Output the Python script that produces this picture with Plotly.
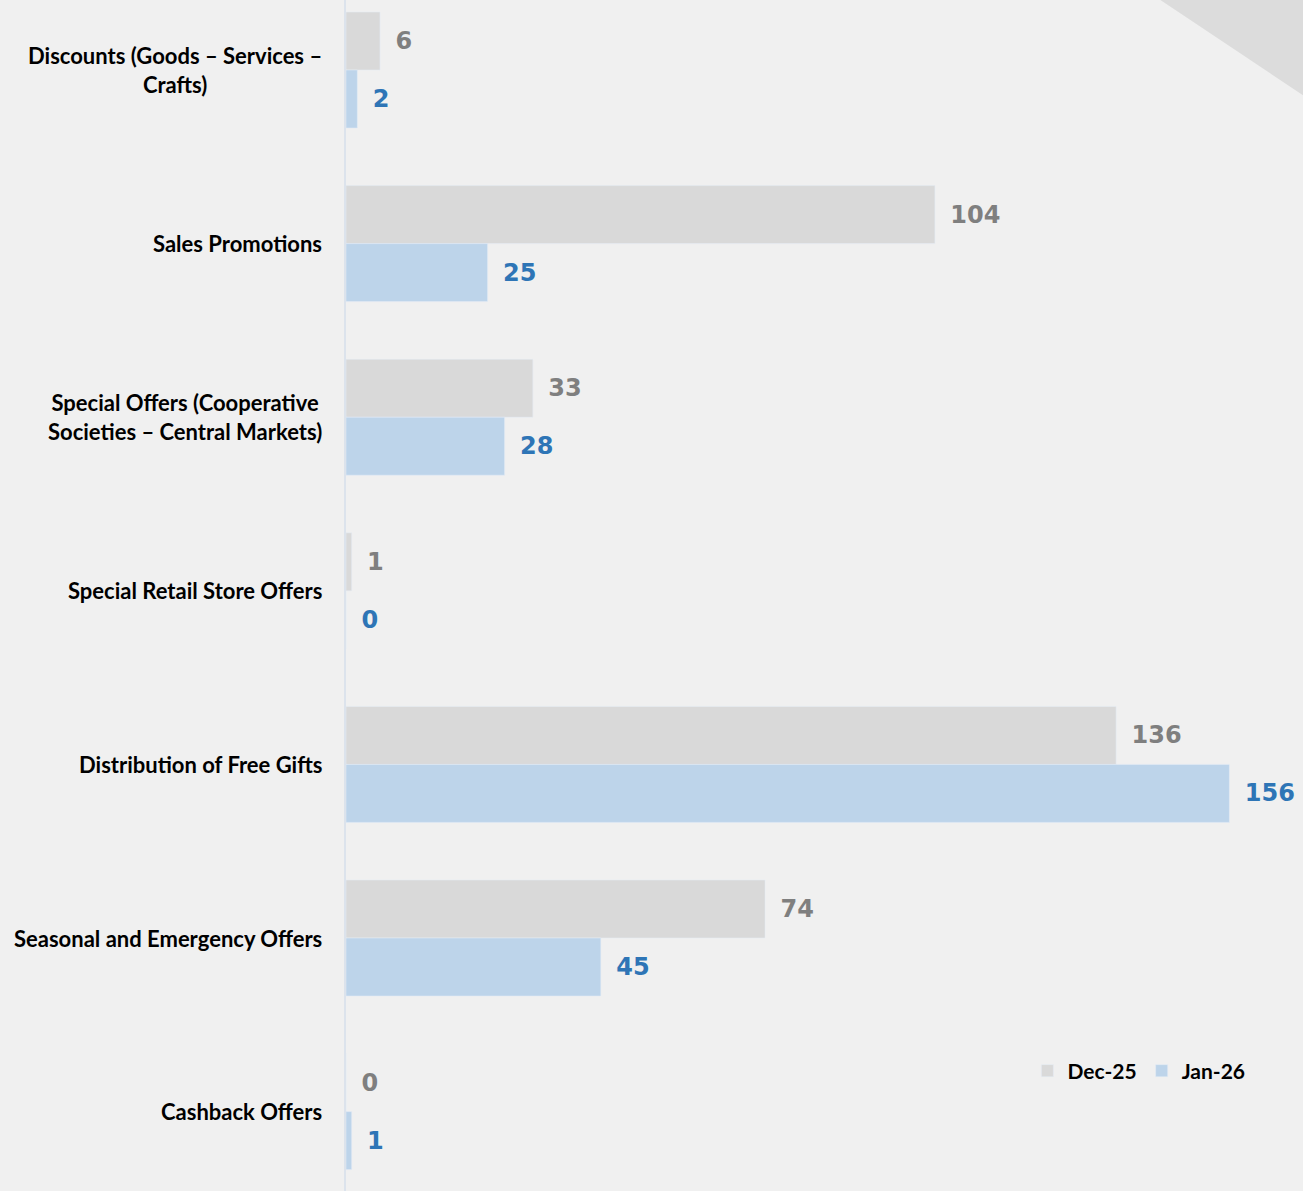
import plotly.graph_objects as go

# data
CATEGORIES = [
    "Discounts (Goods – Services –<br>Crafts)",
    "Sales Promotions",
    "Special Offers (Cooperative<br>Societies – Central Markets)",
    "Special Retail Store Offers",
    "Distribution of Free Gifts",
    "Seasonal and Emergency Offers",
    "Cashback Offers",
]
DEC_25 = [6, 104, 33, 1, 136, 74, 0]
JAN_26 = [2, 25, 28, 0, 156, 45, 1]

# palette
BG = "#f0f0f0"
GREY_BAR = "#d9d9d9"
BLUE_BAR = "#bdd4ea"
GREY_TXT = "#7f7f7f"
BLUE_TXT = "#2e75b6"

W, H = 1303, 1191
LEFT = 346
VAL_FONT = dict(family="DejaVu Sans, sans-serif", size=24)
LBL_FONT = dict(family="Lato, Open Sans, sans-serif", size=22, color="#000000")
PAD = "\u00a0\u2009"

fig = go.Figure()
fig.add_trace(go.Bar(
    y=CATEGORIES, x=DEC_25, name="Dec-25", orientation="h",
    marker_color=GREY_BAR,
    texttemplate=PAD + "<b>%{x}</b>", textposition="outside",
    textfont=dict(**VAL_FONT, color=GREY_TXT), cliponaxis=False,
))
fig.add_trace(go.Bar(
    y=CATEGORIES, x=JAN_26, name="Jan-26", orientation="h",
    marker_color=BLUE_BAR,
    texttemplate=PAD + "<b>%{x}</b>", textposition="outside",
    textfont=dict(**VAL_FONT, color=BLUE_TXT), cliponaxis=False,
))

# category labels, centred lines like the original
for cat in CATEGORIES:
    fig.add_annotation(
        x=0, xref="paper", y=cat, yref="y", text=f"<b>{cat}</b>",
        xanchor="right", yanchor="middle", align="center",
        xshift=-22, showarrow=False, font=LBL_FONT,
    )

# top-right decorative corner
fig.add_shape(
    type="path", xref="paper", yref="paper", layer="below",
    path="M 0.851 1 L 1 0.92 L 1 1 Z",
    fillcolor="#dcdcdc", line_width=0,
)

row_px = 173.6
first_px = 70
fig.update_layout(
    width=W, height=H,
    paper_bgcolor=BG, plot_bgcolor=BG,
    barmode="group", bargap=0.332, bargroupgap=0,
    margin=dict(l=LEFT, r=0, t=0, b=0),
    showlegend=True,
    legend=dict(
        orientation="h", x=0.712, y=1 - 1071 / H, xanchor="left", yanchor="middle",
        bgcolor="rgba(0,0,0,0)",
        font=dict(family="Lato, Open Sans, sans-serif", size=21, color="#000000", weight="bold"),
        traceorder="normal",
    ),
    font=dict(family="Lato, sans-serif"),
)
fig.update_xaxes(range=[0, 169], visible=False, showgrid=False, zeroline=False)
fig.update_yaxes(
    range=[(H - first_px) / row_px, -first_px / row_px],
    showticklabels=False, showgrid=False, zeroline=False,
    showline=True, linecolor="#dce3ec", linewidth=2, ticks="",
)

fig.write_html("out.html", config={"displayModeBar": False},
               post_script="document.body.style.margin='0';")
